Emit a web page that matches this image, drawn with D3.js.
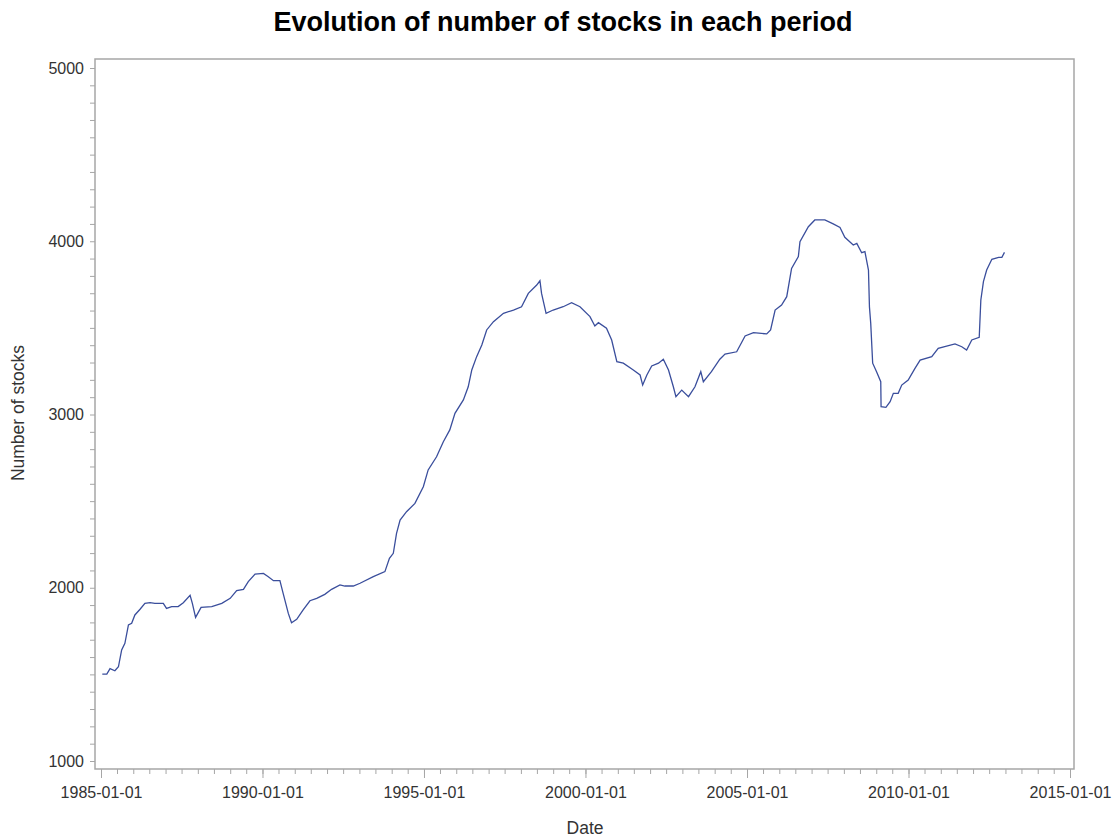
<!DOCTYPE html>
<html>
<head>
<meta charset="utf-8">
<script src="https://cdn.jsdelivr.net/npm/d3@7"></script>
<style>
  body { margin: 0; background: #fff; }
  svg { display: block; font-family: "Liberation Sans", Arial, sans-serif; }
</style>
</head>
<body>
<svg id="chart" width="1119" height="838"></svg>
<script>
// Decimal-year positions of the series
const years = [
  1985.04, 1985.18, 1985.28, 1985.43, 1985.54, 1985.64, 1985.74, 1985.85, 1985.95, 1986.05,
  1986.21, 1986.36, 1986.52, 1986.67, 1986.93, 1987.03, 1987.19, 1987.39, 1987.55, 1987.76,
  1987.83, 1987.93, 1988.10, 1988.43, 1988.74, 1989.00, 1989.20, 1989.41, 1989.56, 1989.77,
  1990.03, 1990.18, 1990.34, 1990.54, 1990.64, 1990.80, 1990.90, 1991.06, 1991.26, 1991.47,
  1991.68, 1991.93, 1992.14, 1992.40, 1992.55, 1992.81, 1993.02, 1993.43, 1993.79, 1993.93,
  1994.05, 1994.15, 1994.26, 1994.46, 1994.72, 1994.98, 1995.13, 1995.39, 1995.60, 1995.80,
  1995.96, 1996.22, 1996.37, 1996.48, 1996.63, 1996.79, 1996.94, 1997.15, 1997.46, 1997.77,
  1998.02, 1998.23, 1998.49, 1998.59, 1998.64, 1998.78, 1999.00, 1999.31, 1999.57, 1999.83,
  2000.14, 2000.29, 2000.40, 2000.65, 2000.81, 2000.97, 2001.17, 2001.48, 2001.69, 2001.77,
  2001.90, 2002.05, 2002.26, 2002.41, 2002.57, 2002.72, 2002.80, 2002.98, 2003.19, 2003.39,
  2003.57, 2003.65, 2003.90, 2004.16, 2004.32, 2004.68, 2004.94, 2005.20, 2005.61, 2005.73,
  2005.87, 2006.07, 2006.23, 2006.38, 2006.59, 2006.64, 2006.90, 2007.10, 2007.41, 2007.67,
  2007.88, 2008.03, 2008.29, 2008.40, 2008.55, 2008.65, 2008.76, 2008.79, 2008.83, 2008.89,
  2009.01, 2009.14, 2009.15, 2009.30, 2009.43, 2009.53, 2009.68, 2009.79, 2009.99, 2010.20,
  2010.36, 2010.72, 2010.92, 2011.18, 2011.44, 2011.65, 2011.80, 2011.96, 2012.19, 2012.24,
  2012.32, 2012.42, 2012.58, 2012.79, 2012.89, 2012.97
];
// Number of stocks at each of those dates
const stocks = [
  1502, 1502, 1533, 1521, 1544, 1641, 1679, 1785, 1795, 1843,
  1876, 1910, 1914, 1910, 1910, 1881, 1891, 1891, 1914, 1956,
  1910, 1829, 1887, 1891, 1910, 1939, 1983, 1991, 2035, 2079,
  2083, 2064, 2041, 2041, 1968, 1852, 1798, 1818, 1872, 1925,
  1939, 1962, 1991, 2016, 2010, 2010, 2026, 2064, 2093, 2170,
  2199, 2314, 2391, 2439, 2487, 2583, 2680, 2756, 2843, 2911,
  3007, 3084, 3160, 3257, 3334, 3401, 3488, 3536, 3584, 3603,
  3622, 3699, 3747, 3772, 3699, 3584, 3603, 3622, 3645, 3622,
  3565, 3511, 3530, 3498, 3430, 3305, 3296, 3257, 3228, 3170,
  3228, 3280, 3296, 3319, 3257, 3160, 3103, 3141, 3103, 3160,
  3247, 3189, 3247, 3319, 3349, 3362, 3453, 3472, 3465, 3488,
  3603, 3632, 3680, 3843, 3911, 3998, 4084, 4123, 4123, 4100,
  4080, 4023, 3978, 3988, 3934, 3940, 3834, 3622, 3526, 3296,
  3247, 3189, 3045, 3041, 3074, 3122, 3122, 3170, 3199, 3266,
  3314, 3334, 3382, 3395, 3407, 3391, 3372, 3430, 3445, 3661,
  3767, 3834, 3896, 3907, 3907, 3936
];
const yTicks = [1000, 2000, 3000, 4000, 5000];
const xTickLabels = ["1985-01-01", "1990-01-01", "1995-01-01", "2000-01-01", "2005-01-01", "2010-01-01", "2015-01-01"];
const titleText = "Evolution of number of stocks in each period";
const xTitle = "Date";
const yTitle = "Number of stocks";

function decToDate(d) {
  const y = Math.floor(d);
  const start = Date.UTC(y, 0, 1), end = Date.UTC(y + 1, 0, 1);
  return new Date(start + (d - y) * (end - start));
}
const data = years.map((y, i) => ({ date: decToDate(y), value: stocks[i] }));

const svg = d3.select("#chart");
const frame = { left: 95, right: 1074, top: 59, bottom: 769 };
const x = d3.scaleUtc()
  .domain([new Date(Date.UTC(1985, 0, 1)), new Date(Date.UTC(2015, 0, 1))])
  .range([101, 1070]);
const y = d3.scaleLinear().domain([1000, 5000]).range([761, 68]);
const axisColor = "#a6a6a6";

// Frame
svg.append("rect")
  .attr("x", frame.left).attr("y", frame.top)
  .attr("width", frame.right - frame.left).attr("height", frame.bottom - frame.top)
  .attr("fill", "none").attr("stroke", axisColor).attr("stroke-width", 1.5);

// Y axis
const yMinor = d3.range(1000, 5001, 100);
const yAxis = svg.append("g").attr("transform", `translate(${frame.left},0)`)
  .call(d3.axisLeft(y).tickValues(yMinor).tickSize(5)
    .tickFormat(d => yTicks.includes(d) ? d3.format("d")(d) : ""));
yAxis.select(".domain").remove();
yAxis.selectAll(".tick line").attr("stroke", axisColor);
yAxis.selectAll(".tick text").attr("font-size", 16).attr("fill", "#333").attr("x", -11);

// X axis
const xMinor = d3.utcMonth.every(6).range(new Date(Date.UTC(1985, 0, 1)), new Date(Date.UTC(2015, 0, 2)));
const xMajor = xTickLabels.map(s => new Date(s + "T00:00:00Z"));
const xAxisMinor = svg.append("g").attr("transform", `translate(0,${frame.bottom})`)
  .call(d3.axisBottom(x).tickValues(xMinor).tickSize(5).tickFormat(""));
xAxisMinor.select(".domain").remove();
xAxisMinor.selectAll(".tick line").attr("stroke", axisColor);
const xAxis = svg.append("g").attr("transform", `translate(0,${frame.bottom})`)
  .call(d3.axisBottom(x).tickValues(xMajor).tickSize(9).tickFormat((d, i) => xTickLabels[i]));
xAxis.select(".domain").remove();
xAxis.selectAll(".tick line").attr("stroke", axisColor);
xAxis.selectAll(".tick text").attr("font-size", 16).attr("fill", "#333").attr("y", 18);

// Line
svg.append("path").datum(data)
  .attr("fill", "none").attr("stroke", "#3a4e9c").attr("stroke-width", 1.3)
  .attr("d", d3.line().x(d => x(d.date)).y(d => y(d.value)));

// Titles
svg.append("text").attr("x", 563).attr("y", 31).attr("text-anchor", "middle")
  .attr("font-size", 27).attr("font-weight", "bold").attr("fill", "#000").text(titleText);
svg.append("text").attr("x", 585).attr("y", 834).attr("text-anchor", "middle")
  .attr("font-size", 17.5).attr("fill", "#333").text(xTitle);
svg.append("text").attr("transform", "translate(24,413) rotate(-90)").attr("text-anchor", "middle")
  .attr("font-size", 17.5).attr("fill", "#333").text(yTitle);
</script>
</body>
</html>
